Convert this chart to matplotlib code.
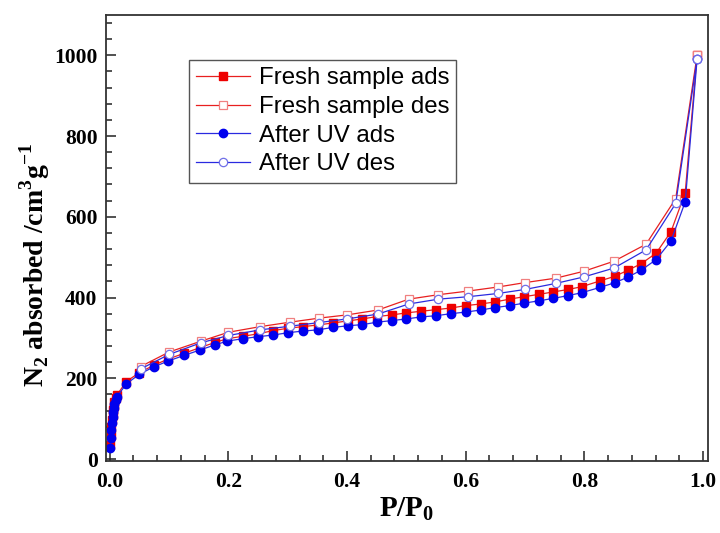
import matplotlib
matplotlib.use('Agg')
import matplotlib.pyplot as plt
from matplotlib.ticker import MultipleLocator

# N2 isotherm data (P/P0, volume adsorbed)
fresh_ads_x = [0.001, 0.002, 0.003, 0.004, 0.005, 0.006, 0.007, 0.008, 0.010, 0.012,
               0.028, 0.05, 0.074, 0.099, 0.126, 0.152, 0.178, 0.198, 0.224, 0.25,
               0.275, 0.301, 0.326, 0.351, 0.376, 0.401, 0.426, 0.451, 0.476, 0.50,
               0.525, 0.55, 0.575, 0.60, 0.625, 0.649, 0.674, 0.698, 0.724, 0.748,
               0.773, 0.796, 0.826, 0.852, 0.874, 0.896, 0.921, 0.946, 0.97, 0.99]
fresh_ads_y = [35, 60, 80, 97, 110, 122, 132, 141, 150, 158,
               192, 214, 232, 248, 262, 276, 289, 298, 304, 310,
               318, 324, 328, 332, 337, 342, 347, 353, 357, 362,
               366, 370, 374, 380, 384, 389, 396, 402, 408, 414,
               420, 427, 441, 453, 468, 484, 510, 563, 660, 1000]

fresh_des_x = [0.99, 0.954, 0.904, 0.85, 0.799, 0.752, 0.70, 0.654, 0.604, 0.554,
               0.504, 0.452, 0.40, 0.353, 0.304, 0.254, 0.20, 0.154, 0.10, 0.052]
fresh_des_y = [1000, 645, 532, 490, 465, 448, 437, 426, 416, 407,
               396, 369, 357, 349, 339, 328, 314, 292, 265, 229]

uv_ads_x = fresh_ads_x
uv_ads_y = [28, 52, 72, 90, 104, 116, 127, 136, 146, 154,
            186, 210, 228, 243, 257, 270, 283, 292, 298, 303,
            307, 313, 317, 320, 326, 330, 333, 339, 343, 347,
            352, 355, 360, 364, 369, 375, 380, 386, 392, 398,
            405, 412, 425, 437, 451, 468, 494, 540, 637, 990]

uv_des_x = fresh_des_x
uv_des_y = [990, 633, 518, 473, 451, 435, 420, 410, 402, 396,
            384, 359, 347, 338, 329, 320, 306, 288, 259, 223]

plt.rcParams['mathtext.fontset'] = 'custom'
plt.rcParams['mathtext.rm'] = 'Liberation Serif:bold'
plt.rcParams['mathtext.bf'] = 'Liberation Serif:bold'

fig = plt.figure(figsize=(7.2, 5.33), dpi=100)
ax = fig.add_axes([0.147, 0.135, 0.836, 0.837])

red = '#e82020'
blue = '#2a2ae0'
lw = 0.9
ax.plot(fresh_ads_x, fresh_ads_y, color=red, lw=lw, marker='s', ms=5.5,
        mfc='#ee0000', mec='#ee0000', label='Fresh sample ads')
ax.plot(fresh_des_x, fresh_des_y, color=red, lw=lw, marker='s', ms=5.5,
        mfc='white', mec='#f08080', mew=0.9, label='Fresh sample des')
ax.plot(uv_ads_x, uv_ads_y, color=blue, lw=lw, marker='o', ms=6,
        mfc='#0000ee', mec='#0000ee', label='After UV ads')
ax.plot(uv_des_x, uv_des_y, color=blue, lw=lw, marker='o', ms=6,
        mfc='white', mec='#7070e8', mew=0.9, label='After UV des')

ax.set_xlim(-0.0065, 1.008)
ax.set_ylim(-5, 1100)
ax.xaxis.set_major_locator(MultipleLocator(0.2))
ax.xaxis.set_minor_locator(MultipleLocator(0.04))
ax.yaxis.set_major_locator(MultipleLocator(200))
ax.yaxis.set_minor_locator(MultipleLocator(40))
ax.tick_params(which='both', direction='in', top=False, right=False,
               width=1.1, color='#222222')
ax.tick_params(which='major', length=7)
ax.tick_params(which='minor', length=4)
for lab in ax.get_xticklabels() + ax.get_yticklabels():
    lab.set_fontfamily('Liberation Serif')
    lab.set_fontweight('bold')
    lab.set_fontsize(15.5)
ax.tick_params(axis='x', pad=8)
ax.tick_params(axis='y', pad=6)
for s in ax.spines.values():
    s.set_linewidth(1.3)
    s.set_color('#333333')

ax.set_xlabel('P/P$_0$', fontfamily='Liberation Serif', fontweight='bold',
              fontsize=21, labelpad=2)
ax.set_ylabel('N$_2$ absorbed /cm$^3$g$^{-1}$', fontfamily='Liberation Serif',
              fontweight='bold', fontsize=20)
ax.yaxis.set_label_coords(-0.09, 0.44)

leg = ax.legend(loc='upper left', bbox_to_anchor=(0.138, 0.899), borderaxespad=0,
                prop={'family': 'Liberation Sans', 'size': 17.3},
                handlelength=2.25, handletextpad=0.35, labelspacing=0.28,
                borderpad=0.3, fancybox=False, framealpha=1)
leg.get_frame().set_edgecolor('#555555')
leg.get_frame().set_linewidth(1.0)

fig.savefig('out.png', dpi=100)
